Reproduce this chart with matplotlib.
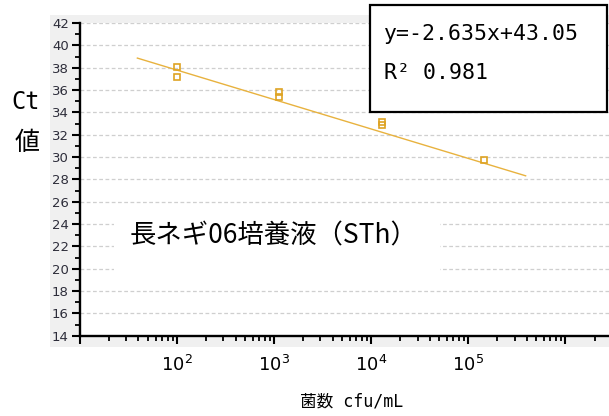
import numpy as np
import matplotlib
matplotlib.use("Agg")
import matplotlib.pyplot as plt
from matplotlib.patches import Rectangle
from matplotlib.ticker import FixedLocator, MultipleLocator, LogLocator, NullFormatter, FixedFormatter

# Measurements: bacterial count (cfu/mL) vs Ct value
cfu = [100, 100, 1130, 1130, 13000, 13000, 146000]
ct = [38.1, 37.2, 35.8, 35.35, 33.1, 32.9, 29.7]

# Regression: Ct = slope * log10(cfu) + intercept
slope = -2.635
intercept = 43.05
r_squared = 0.981
fit_range = [39, 390000]

y_ticks = list(range(14, 43, 2))
x_decades = [1e1, 1e2, 1e3, 1e4, 1e5, 1e6]
x_labels = ["", "$10^2$", "$10^3$", "$10^4$", "$10^5$", ""]

W, H = 609, 416
fig = plt.figure(figsize=(W / 100, H / 100), dpi=100)
fig.patch.set_facecolor("white")


def px(x, y):
    return x / W, 1 - y / H


# light grey panel behind the plotting area
fig.patches.append(Rectangle(px(50, 347), (W - 50) / W, (347 - 15) / H,
                             transform=fig.transFigure, facecolor="#f0f0f0",
                             edgecolor="none", zorder=0))

ax = fig.add_axes([80 / W, (H - 335.7) / H, (W - 80) / W, (335.7 - 23) / H])
ax.set_facecolor("white")
ax.set_zorder(1)

ax.set_xscale("log")
ax.set_xlim(10, 10 ** 6.45)
ax.set_ylim(14, 42)

# fitted line
fx = np.logspace(np.log10(fit_range[0]), np.log10(fit_range[1]), 50)
fy = slope * np.log10(fx) + intercept
ax.plot(fx, fy, color="#e8b23e", lw=1.0, zorder=3)

# measured points
ax.plot(cfu, ct, ls="none", marker="s", ms=5, mfc="none", mec="#dea323",
        mew=1.2, zorder=4)

# grid
ax.yaxis.set_major_locator(FixedLocator(y_ticks))
ax.yaxis.set_minor_locator(MultipleLocator(1))
ax.grid(axis="y", which="major", color="#cfcfcf", lw=0.9, ls=(0, (3, 2)))
ax.set_axisbelow(True)

ax.xaxis.set_major_locator(FixedLocator(x_decades))
ax.xaxis.set_major_formatter(FixedFormatter(x_labels))
ax.xaxis.set_minor_locator(LogLocator(base=10, subs=np.arange(2, 10), numticks=20))
ax.xaxis.set_minor_formatter(NullFormatter())

for side in ("top", "right"):
    ax.spines[side].set_visible(False)
for side in ("left", "bottom"):
    ax.spines[side].set_linewidth(1.7)
    ax.spines[side].set_color("black")

ax.tick_params(axis="y", which="major", direction="out", length=6, width=1.5,
               labelsize=9.5, labelcolor="#2d2d3a", pad=2)
ax.tick_params(axis="y", which="minor", direction="out", length=3.6, width=1.3)
ax.tick_params(axis="x", which="major", direction="out", length=5.5, width=1.5,
               labelsize=13, pad=8)
ax.tick_params(axis="x", which="minor", direction="out", length=3.8, width=1.3)

# sample name with white backing
fig.patches.append(Rectangle(px(114, 278), (440 - 114) / W, (278 - 213) / H,
                             transform=fig.transFigure, facecolor="white",
                             edgecolor="none", zorder=2))
fig.text(*px(130, 236), "長ネギ06培養液（STh）", family=["Noto Sans CJK JP"],
         fontsize=19, ha="left", va="center", zorder=3)

# equation box
fig.patches.append(Rectangle(px(370, 112), (607 - 370) / W, (112 - 5) / H,
                             transform=fig.transFigure, facecolor="white",
                             edgecolor="black", lw=1.6, zorder=2))
fig.text(*px(384, 34), f"y={slope}x+{intercept}", family=["DejaVu Sans Mono"],
         fontsize=15.5, ha="left", va="center", zorder=3)
fig.text(*px(384, 73), f"R² {r_squared}", family=["DejaVu Sans Mono"],
         fontsize=15.5, ha="left", va="center", zorder=3)

# axis titles
fig.text(*px(26, 102), "Ct", family=["DejaVu Sans Mono"], fontsize=17,
         ha="center", va="center")
fig.text(*px(27, 143), "値", family=["Noto Sans CJK JP"], fontsize=18,
         ha="center", va="center")
fig.text(*px(352, 402), "菌数 cfu/mL", family=["DejaVu Sans Mono", "Noto Sans CJK JP"],
         fontsize=12, ha="center", va="center")

fig.savefig("out.png", dpi=100, facecolor="white")
